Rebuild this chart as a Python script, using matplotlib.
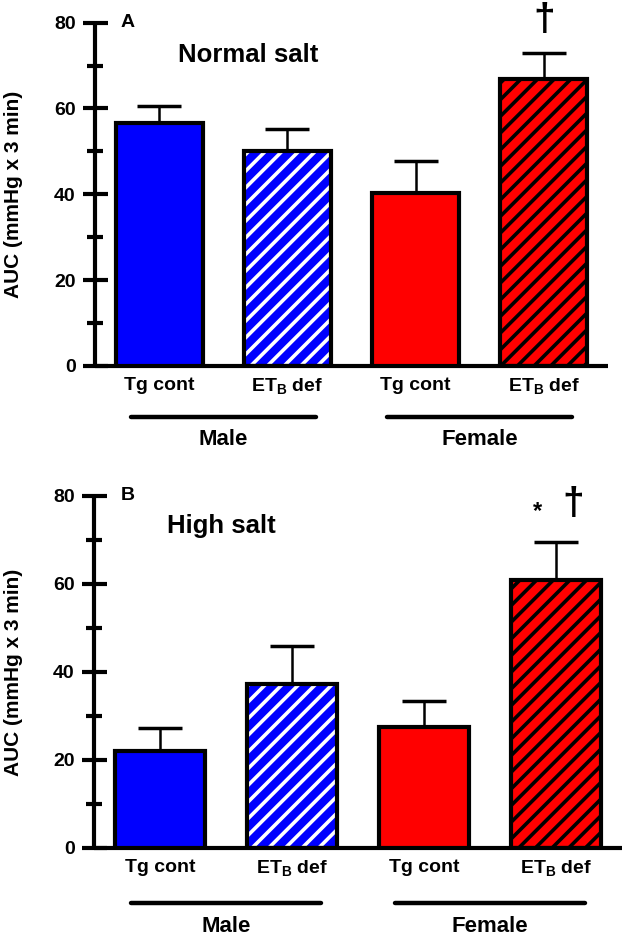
import matplotlib
matplotlib.use('Agg')
from matplotlib import pyplot as plt
import numpy as np

plt.rcParams['font.family'] = ['Liberation Sans', 'DejaVu Sans']
plt.rcParams['font.weight'] = 'bold'
plt.rcParams['axes.labelweight'] = 'bold'
plt.rcParams['mathtext.fontset'] = 'custom'
plt.rcParams['mathtext.rm'] = 'Liberation Sans:bold'
plt.rcParams['mathtext.bf'] = 'Liberation Sans:bold'
plt.rcParams['hatch.linewidth'] = 2.6

groups = ['Tg cont', r'ET$_\mathbf{B}$ def', 'Tg cont', r'ET$_\mathbf{B}$ def']
sexes = ['Male', 'Female']
normal_mean = [56.5, 50.0, 40.2, 66.8]
normal_err = [4.0, 5.2, 7.6, 6.2]
high_mean = [22.0, 37.2, 27.5, 60.9]
high_err = [5.2, 8.8, 6.0, 8.6]
face = ['#0000ff', '#0000ff', '#ff0000', '#ff0000']
hatch = [None, '//', None, '//']
hatch_col = [None, 'white', None, 'black']

x = np.arange(4)


def panel(ax, mean, err, letter, title, title_xy, marks, line_y, sex_y, lab_x):
    for i in range(4):
        if hatch[i]:
            ax.bar(x[i], mean[i], 0.68, color=face[i], edgecolor=hatch_col[i],
                   hatch=hatch[i], linewidth=0, zorder=2)
            ax.bar(x[i], mean[i], 0.68, fill=False, edgecolor='black', linewidth=3, zorder=3)
        else:
            ax.bar(x[i], mean[i], 0.68, color=face[i], edgecolor='black', linewidth=3, zorder=3)
    ax.errorbar(x, mean, yerr=[np.zeros(4), err], fmt='none', ecolor='black',
                elinewidth=1.8, capsize=16, capthick=2.5, zorder=1)
    ax.set_xlim(-0.5, 3.5)
    ax.set_ylim(0, 80)
    ax.set_yticks([0, 20, 40, 60, 80])
    ax.set_yticks([10, 30, 50, 70], minor=True)
    ax.tick_params(axis='y', which='major', direction='inout', length=18, width=3,
                   labelsize=14, pad=5)
    ax.tick_params(axis='y', which='minor', direction='inout', length=11, width=3)
    ax.set_xticks(x)
    ax.set_xticklabels(groups)
    ax.tick_params(axis='x', length=0, labelsize=14, pad=8)
    for s in ['top', 'right']:
        ax.spines[s].set_visible(False)
    for s in ['left', 'bottom']:
        ax.spines[s].set_linewidth(3)
        ax.spines[s].set_capstyle('butt')
    ax.set_ylabel('AUC (mmHg x 3 min)', fontsize=15)
    ax.yaxis.set_label_coords(lab_x, 0.5)
    ax.text(0.05, 1.0, letter, transform=ax.transAxes, fontsize=14, ha='left', va='center')
    ax.text(title_xy[0], title_xy[1], title, transform=ax.transAxes, fontsize=18.5,
            ha='left', va='center')
    tr = ax.get_xaxis_transform()
    ax.plot([-0.22, 1.22], [line_y, line_y], color='black', lw=3.2, solid_capstyle='round',
            transform=tr, clip_on=False)
    ax.plot([1.78, 3.22], [line_y, line_y], color='black', lw=3.2, solid_capstyle='round',
            transform=tr, clip_on=False)
    ax.text(0.5, sex_y, sexes[0], transform=tr, fontsize=16, ha='center', va='center')
    ax.text(2.5, sex_y, sexes[1], transform=tr, fontsize=16, ha='center', va='center')
    for xm, ym, s, fs in marks:
        ax.text(xm, ym, s, fontsize=fs, ha='center', va='center', clip_on=False)


fig = plt.figure(figsize=(6.22, 9.42), dpi=100)
axA = fig.add_axes([95 / 622, 0.6115, 513 / 622, 0.3645])
axB = fig.add_axes([94 / 622, 0.0998, 528 / 622, 0.3737])

panel(axA, normal_mean, normal_err, 'A', 'Normal salt', (0.162, 0.905),
      [(3.0, 80.6, '\u2020', 28)], -0.149, -0.214, -0.14)
panel(axB, high_mean, high_err, 'B', 'High salt', (0.138, 0.915),
      [(2.86, 76.4, '*', 17), (3.13, 78.2, '\u2020', 28)], -0.156, -0.224, -0.134)

fig.savefig('out.png', dpi=100)
